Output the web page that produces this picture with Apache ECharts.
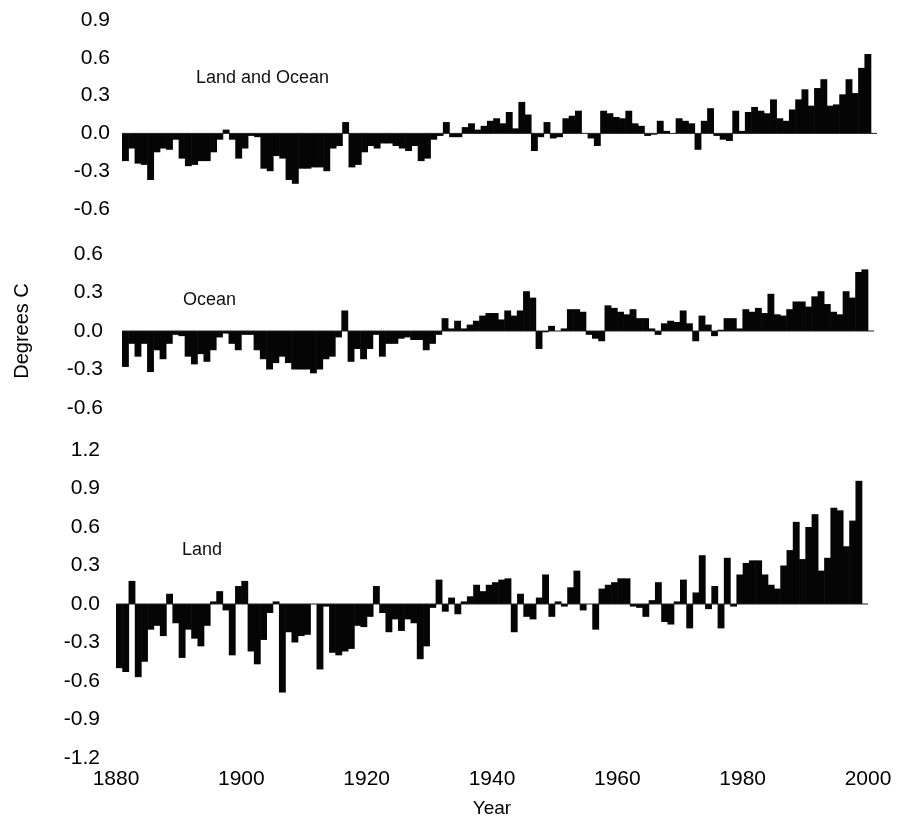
<!DOCTYPE html>
<html>
<head>
<meta charset="utf-8">
<script src="https://cdn.jsdelivr.net/npm/echarts@6/dist/echarts.min.js"></script>
<style>
html,body{margin:0;padding:0;background:#fff;}
#chart{width:899px;height:825px;}
</style>
</head>
<body>
<div id="chart"></div>
<script>
// Years 1880..1998, one bar per year
const startYear = 1880;
const xTicks = [1880, 1900, 1920, 1940, 1960, 1980, 2000];
const panelTitles = ["Land and Ocean", "Ocean", "Land"];

const landOcean = [
 -0.22,-0.12,-0.24,-0.25,-0.37,-0.15,-0.12,-0.13,-0.05,-0.20,
 -0.26,-0.25,-0.22,-0.22,-0.15,-0.05,0.03,-0.05,-0.20,-0.12,
 -0.02,-0.03,-0.28,-0.30,-0.18,-0.20,-0.37,-0.40,-0.28,-0.28,
 -0.27,-0.27,-0.30,-0.12,-0.10,0.09,-0.27,-0.25,-0.15,-0.10,
 -0.12,-0.08,-0.08,-0.10,-0.12,-0.14,-0.10,-0.22,-0.20,-0.05,
 -0.02,0.09,-0.03,-0.03,0.05,0.08,0.03,0.06,0.10,0.12,
 0.08,0.17,0.04,0.25,0.15,-0.14,-0.03,0.09,-0.04,-0.03,
 0.12,0.14,0.18,0.00,-0.04,-0.10,0.18,0.16,0.13,0.12,
 0.18,0.08,0.06,-0.02,-0.01,0.10,0.02,0.00,0.12,0.10,
 0.08,-0.13,0.10,0.20,-0.02,-0.05,-0.06,0.18,0.02,0.17,
 0.21,0.18,0.16,0.27,0.12,0.10,0.19,0.27,0.35,0.22,
 0.36,0.43,0.22,0.23,0.31,0.43,0.32,0.52,0.63
];

const ocean = [
 -0.28,-0.10,-0.20,-0.10,-0.32,-0.15,-0.22,-0.10,-0.03,-0.04,
 -0.20,-0.26,-0.18,-0.24,-0.15,-0.05,-0.02,-0.10,-0.15,-0.03,
 -0.03,-0.15,-0.22,-0.30,-0.25,-0.20,-0.25,-0.30,-0.30,-0.30,
 -0.33,-0.30,-0.22,-0.20,-0.05,0.16,-0.24,-0.14,-0.22,-0.14,
 -0.03,-0.20,-0.10,-0.10,-0.06,-0.05,-0.07,-0.07,-0.15,-0.10,
 -0.03,0.10,0.02,0.08,0.02,0.05,0.08,0.12,0.14,0.14,
 0.09,0.16,0.12,0.16,0.31,0.26,-0.14,-0.01,0.04,0.00,
 0.02,0.17,0.17,0.15,-0.03,-0.06,-0.08,0.20,0.18,0.15,
 0.13,0.17,0.10,0.10,0.02,-0.03,0.06,0.08,0.07,0.16,
 0.06,-0.08,0.12,0.05,-0.04,0.01,0.10,0.10,0.02,0.17,
 0.15,0.18,0.14,0.29,0.13,0.12,0.17,0.23,0.23,0.19,
 0.27,0.31,0.21,0.15,0.13,0.31,0.26,0.46,0.48
];

const land = [
 -0.50,-0.53,0.18,-0.57,-0.45,-0.20,-0.17,-0.25,0.08,-0.15,
 -0.42,-0.20,-0.27,-0.33,-0.17,0.02,0.10,-0.05,-0.40,0.14,
 0.18,-0.37,-0.47,-0.28,-0.07,0.02,-0.69,-0.22,-0.30,-0.25,
 -0.24,0.00,-0.51,-0.02,-0.38,-0.40,-0.37,-0.35,-0.17,-0.18,
 -0.10,0.14,-0.07,-0.22,-0.12,-0.21,-0.12,-0.15,-0.43,-0.33,
 -0.03,0.19,-0.06,0.05,-0.08,0.02,0.06,0.15,0.10,0.15,
 0.17,0.19,0.20,-0.22,0.08,-0.10,-0.12,0.05,0.23,-0.10,
 0.02,-0.02,0.13,0.26,-0.05,0.00,-0.20,0.12,0.15,0.17,
 0.20,0.20,-0.02,-0.03,-0.10,0.03,0.17,-0.14,-0.16,0.02,
 0.19,-0.19,0.09,0.38,-0.04,0.14,-0.19,0.36,-0.02,0.23,
 0.32,0.34,0.34,0.23,0.15,0.12,0.30,0.42,0.64,0.35,
 0.60,0.70,0.26,0.36,0.75,0.73,0.45,0.65,0.96
];

const yTicksTop = { min: -0.6, max: 0.9, interval: 0.3 };
const yTicksMid = { min: -0.6, max: 0.6, interval: 0.3 };
const yTicksBot = { min: -1.2, max: 1.2, interval: 0.3 };

const FONT = 'Liberation Sans';

function toPairs(arr) {
  return arr.map((v, i) => [startYear + i, v]);
}

function renderBar(params, api) {
  const x = api.value(0), v = api.value(1);
  const p0 = api.coord([x, 0]);
  const p1 = api.coord([x + 1, v]);
  return {
    type: 'rect',
    shape: {
      x: p0[0],
      y: Math.min(p0[1], p1[1]),
      width: p1[0] - p0[0] + 0.6,
      height: Math.abs(p1[1] - p0[1])
    },
    style: { fill: '#050505' }
  };
}

const grids = [
  { left: 122, width: 755, top: 20, height: 189 },
  { left: 122, width: 752, top: 254, height: 154 },
  { left: 116, width: 752, top: 450, height: 308 }
];
const labelMargins = [12, 19, 16];

function makeX(idx, showLabels) {
  return {
    type: 'value', gridIndex: idx, min: xTicks[0], max: xTicks[xTicks.length - 1], interval: 20,
    axisLine: { show: false }, axisTick: { show: false }, splitLine: { show: false },
    axisLabel: { show: showLabels, fontSize: 21, fontFamily: FONT, color: '#000', margin: 11,
      formatter: v => String(v) },
    name: showLabels ? 'Year' : '', nameLocation: 'middle', nameGap: 41,
    nameTextStyle: { fontSize: 19, fontFamily: FONT, color: '#000' }
  };
}

function makeY(idx, t, name) {
  return {
    type: 'value', gridIndex: idx, min: t.min, max: t.max, interval: t.interval,
    axisLine: { show: false }, axisTick: { show: false }, splitLine: { show: false },
    axisLabel: { fontSize: 21, fontFamily: FONT, color: '#000', margin: labelMargins[idx],
      formatter: v => v.toFixed(1) },
    name: name || '', nameLocation: 'middle', nameGap: 90,
    nameTextStyle: { fontSize: 20, fontFamily: FONT, color: '#000' }
  };
}

const seriesData = [landOcean, ocean, land];
const series = [];
seriesData.forEach((arr, i) => {
  series.push({
    type: 'custom', xAxisIndex: i, yAxisIndex: i,
    renderItem: renderBar, data: toPairs(arr), encode: { x: 0, y: 1 }, silent: true
  });
  series.push({
    type: 'line', xAxisIndex: i, yAxisIndex: i, symbol: 'none', silent: true,
    data: [[xTicks[0], 0], [xTicks[xTicks.length - 1], 0]],
    lineStyle: { color: '#222', width: 1 }
  });
});

const chart = echarts.init(document.getElementById('chart'), null, { renderer: 'canvas' });
chart.setOption({
  animation: false,
  backgroundColor: '#fff',
  grid: grids,
  xAxis: [makeX(0, false), makeX(1, false), makeX(2, true)],
  yAxis: [makeY(0, yTicksTop), makeY(1, yTicksMid, 'Degrees C'), makeY(2, yTicksBot)],
  series: series,
  graphic: [
    { type: 'text', left: 196, top: 69, style: { text: panelTitles[0], font: '18px ' + FONT, fill: '#111' } },
    { type: 'text', left: 183, top: 291, style: { text: panelTitles[1], font: '18px ' + FONT, fill: '#111' } },
    { type: 'text', left: 182, top: 541, style: { text: panelTitles[2], font: '18px ' + FONT, fill: '#111' } }
  ]
});
</script>
</body>
</html>
